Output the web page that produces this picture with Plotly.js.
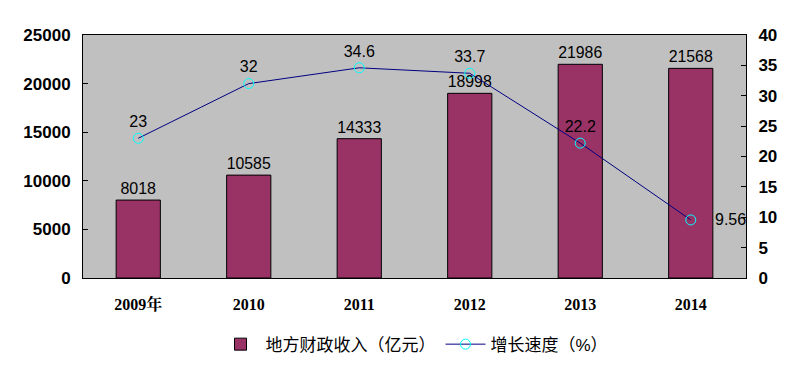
<!DOCTYPE html>
<html><head><meta charset="utf-8">
<script src="https://cdn.plot.ly/plotly-3.0.1.min.js"></script>
<style>body{margin:0;background:#fff}#c{width:802px;height:367px}</style>
</head><body><div id="c"></div>
<script>
const categories = ['2009年','2010','2011','2012','2013','2014'];
const revenue = [8018, 10585, 14333, 18998, 21986, 21568];
const growth = [23, 32, 34.6, 33.7, 22.2, 9.56];
const growthLabels = ['23','32','34.6','33.7','22.2','9.56'];

const bar = {
  type:'bar', x:categories, y:revenue, name:'地方财政收入（亿元）',
  marker:{color:'#993366', line:{color:'#000', width:1}},
  width:0.4,
  text: revenue.map(String), textposition:'outside', cliponaxis:false,
  textfont:{family:'Liberation Sans, Arial', size:16, color:'#000'}
};
const last = growth.length-1;
const line = {
  type:'scatter', mode:'lines+markers+text', x:categories, y:growth, yaxis:'y2',
  name:'增长速度（%）',
  line:{color:'#000080', width:1},
  marker:{symbol:'circle-open', size:10, color:'#00FFFF', line:{width:1}},
  text: growthLabels.map((t,i)=> i===last ? '' : t),
  textposition:'top center',
  textfont:{family:'Liberation Sans, Arial', size:16, color:'#000'},
  cliponaxis:false
};
const layout = {
  width:802, height:367,
  margin:{l:83, r:56, t:35, b:89, autoexpand:false},
  paper_bgcolor:'#fff', plot_bgcolor:'#C0C0C0',
  showlegend:true,
  legend:{orientation:'h', x:0.5, xanchor:'center', y:-0.2, yanchor:'top', itemwidth:40,
    font:{family:'Liberation Sans, Noto Sans CJK SC', size:17, color:'#000'}},
  annotations:[{x:last, xref:'x', y:growth[last], yref:'y2', text:growthLabels[last],
    showarrow:false, xanchor:'left', xshift:22,
    font:{family:'Liberation Sans, Arial', size:16, color:'#000'}}],
  xaxis:{type:'category', range:[-0.5, categories.length-0.5], automargin:false, showline:true, linecolor:'#000', mirror:true, ticks:'', showgrid:false,
    tickfont:{family:'Liberation Serif, Noto Serif CJK SC, serif', size:16, color:'#000', weight:'bold'},
    ticklabelstandoff:12},
  yaxis:{range:[0,25000], dtick:5000, tickformat:'d', automargin:false, showline:true, linecolor:'#000', showgrid:false,
    ticks:'inside', ticklen:5, tickcolor:'#000', zeroline:false,
    tickfont:{family:'Liberation Sans, Arial', size:17, color:'#000', weight:'bold'},
    ticklabelstandoff:8},
  yaxis2:{range:[0,40], dtick:5, overlaying:'y', side:'right', automargin:false, showline:true, linecolor:'#000',
    showgrid:false, ticks:'inside', ticklen:5, tickcolor:'#000', zeroline:false,
    tickfont:{family:'Liberation Sans, Arial', size:17, color:'#000', weight:'bold'},
    ticklabelstandoff:8}
};
Plotly.newPlot('c',[bar,line],layout,{displayModeBar:false});
</script></body></html>
